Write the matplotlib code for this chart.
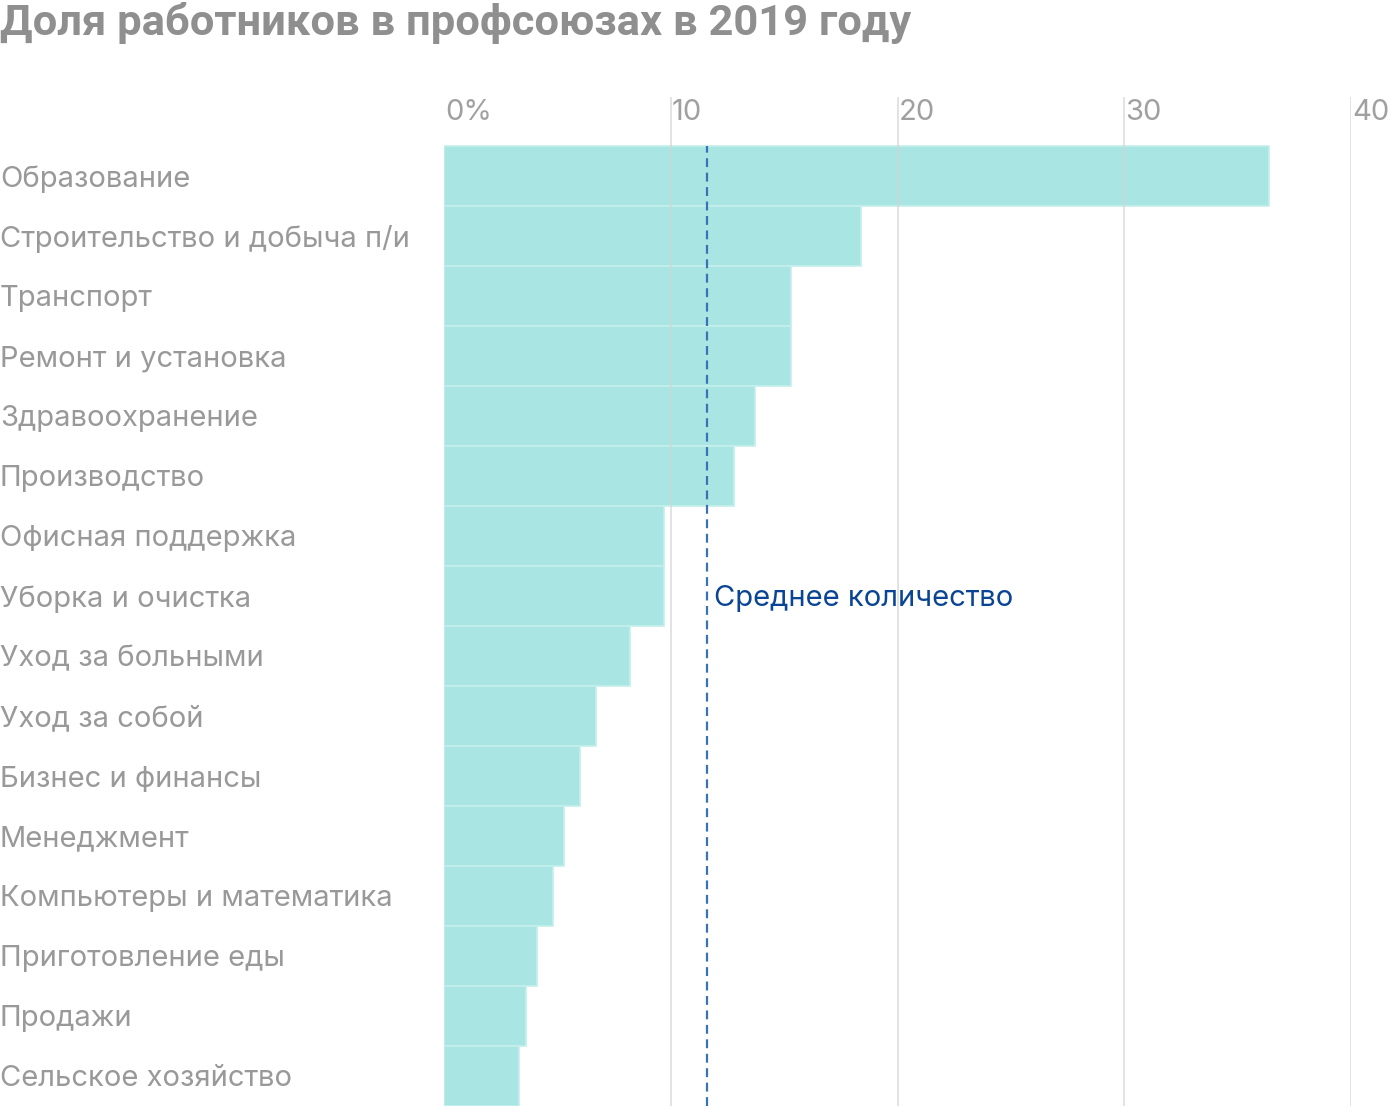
import matplotlib.pyplot as plt
import matplotlib.transforms as mtransforms

plt.rcParams['font.family'] = ['Inter', 'DejaVu Sans']

# data
categories = ['Образование', 'Строительство и добыча п/и', 'Транспорт',
              'Ремонт и установка', 'Здравоохранение', 'Производство',
              'Офисная поддержка', 'Уборка и очистка', 'Уход за больными',
              'Уход за собой', 'Бизнес и финансы', 'Менеджмент',
              'Компьютеры и математика', 'Приготовление еды', 'Продажи',
              'Сельское хозяйство']
shares = [36.4, 18.4, 15.3, 15.3, 13.7, 12.8, 9.7, 9.7, 8.2, 6.7,
          6.0, 5.3, 4.8, 4.1, 3.6, 3.3]
mean_share = 11.6
mean_label = 'Среднее количество'
mean_label_row = 7
xticks = [0, 10, 20, 30, 40]
xtick_labels = ['0%', '10', '20', '30', '40']
title = 'Доля работников в профсоюзах в 2019 году'

gray = '#999999'

fig = plt.figure(figsize=(14, 11.08), dpi=100)
ax = fig.add_axes([444 / 1400, 2 / 1108, (1351 - 444) / 1400, (1106 - 97) / 1108])

ypos = list(range(len(categories)))
ax.barh(ypos, shares, height=1.0, color='#a9e5e2', edgecolor='#c4efec',
        linewidth=1.2, zorder=2)

for x in xticks[1:]:
    ax.axvline(x, color='#d4d4d4', lw=1.3, alpha=0.7, zorder=3)

ax.axvline(mean_share, ymin=0, ymax=1 - 49 / 1009, color='#3b72b5', lw=1.6,
           ls=(0, (4, 2.5)), zorder=4)
ax.text(mean_share + 0.3, mean_label_row, mean_label, color='#0a4595',
        fontsize=21, va='center_baseline', ha='left', zorder=5)

ax.set_xlim(0, 40)
ax.set_ylim(len(categories) - 0.5, -0.5 - 49 / 60)
ax.axis('off')

# tick labels to the right of grid lines
for x, lab in zip(xticks, xtick_labels):
    ax.text(x + 0.05, -0.5 - 49 / 60 + 0.21, lab, color='#a0a0a0',
            fontsize=21, ha='left', va='center_baseline')

# category labels at left edge of figure
trans = mtransforms.blended_transform_factory(fig.transFigure, ax.transData)
for y, cat in zip(ypos, categories):
    ax.text(0.0, y, cat, transform=trans, color=gray, fontsize=21,
            ha='left', va='center_baseline')

fig.text(0.0, 1 - 23 / 1108, title, color='#8f8f8f', fontsize=31.3,
         fontfamily=['Roboto', 'DejaVu Sans'], fontweight='bold',
         ha='left', va='center')

fig.savefig('out.png', dpi=100)
